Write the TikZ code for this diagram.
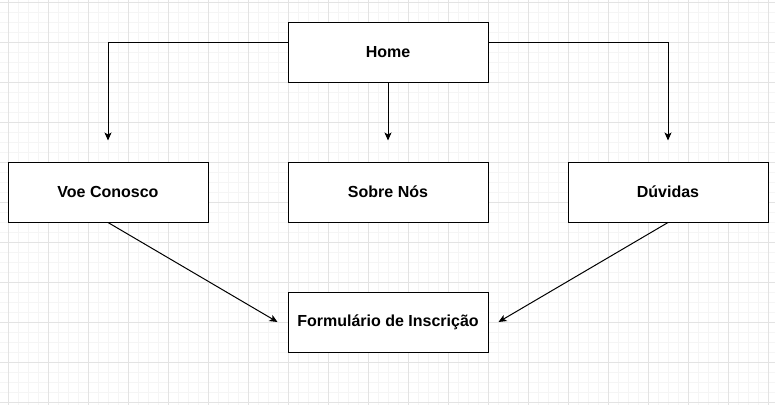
\documentclass[tikz,border=0pt]{standalone}
\usepackage{fontspec}
\setmainfont{Liberation Sans}
\usetikzlibrary{arrows.meta}

\begin{document}
\begin{tikzpicture}[x=1pt,y=-1pt,>={Stealth[length=8pt,width=7pt,inset=2pt]},
  box/.style={draw,line width=1pt,fill=white,minimum width=200pt,minimum height=60pt,font=\fontsize{16}{19}\selectfont\bfseries},
  arr/.style={->,line width=1pt},
  minor/.style={black!4,line width=1pt},
  major/.style={black!11,line width=1pt}]
  % background grid
  \fill[white] (0,0) rectangle (775,405);
  \useasboundingbox (0,0) rectangle (775,405);
  \foreach \x in {-2,8,...,775} \draw[minor] (\x,0) -- (\x,405);
  \foreach \y in {2,12,...,405} \draw[minor] (0,\y) -- (775,\y);
  \foreach \x in {8,48,...,775} \draw[major] (\x,0) -- (\x,405);
  \foreach \y in {2,42,...,405} \draw[major] (0,\y) -- (775,\y);
  % pages
  \node[box](home) at (388,52){Home};
  \node[box](voe) at (108,192){Voe Conosco};
  \node[box](sobre) at (388,192){Sobre Nós};
  \node[box](duv) at (668,192){Dúvidas};
  \node[box](form) at (388,322){Formulário de Inscrição};
  % links
  \draw[arr]([yshift=10pt]home.west) -| ([yshift=21pt]voe.north);
  \draw[arr](home.south) -- ([yshift=21pt]sobre.north);
  \draw[arr]([yshift=10pt]home.east) -| ([yshift=21pt]duv.north);
  \draw[arr](voe.south) -- ([xshift=-10pt]form.west);
  \draw[arr](duv.south) -- ([xshift=10pt]form.east);
\end{tikzpicture}
\end{document}
